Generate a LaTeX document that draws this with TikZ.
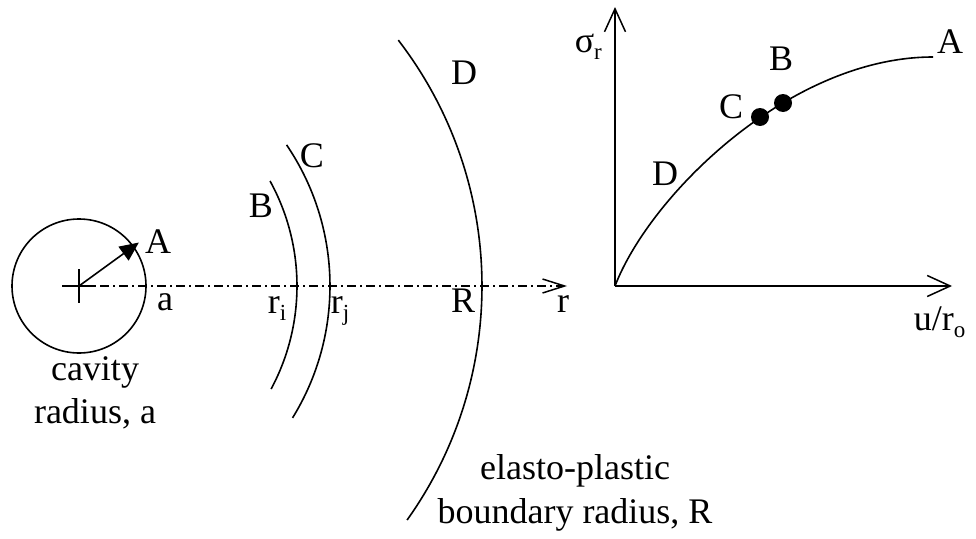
\documentclass[tikz,border=0pt]{standalone}
\usepackage{fontspec}
\setmainfont{Liberation Serif}
\usetikzlibrary{arrows.meta,calc}
\newcommand\mysub[1]{\raisebox{-0.2em}{\fontsize{23}{25}\selectfont #1}}
\begin{document}
\begin{tikzpicture}[x=1pt,y=-1pt,line width=1.6pt,
  lbl/.style={inner sep=0pt,font=\fontsize{36}{42}\selectfont},
  dashdot/.style={dash pattern=on 9pt off 4pt on 2pt off 4pt},
  smallhead/.style={-{Straight Barb[length=22pt,width=14pt,line width=1.5pt]}},
  axishead/.style={-{Straight Barb[length=23pt,width=21pt,line width=1.5pt]}},
  dot/.style={circle,fill=black,inner sep=0pt,minimum size=18pt}]
\useasboundingbox (0,0) rectangle (976,538);
% cavity
\coordinate (O) at (79,286);
\draw (O) circle[radius=67];
\draw (O) ++(-17,0) -- ++(34,0);
\draw (O) ++(0,-17) -- ++(0,34);
\coordinate (Aedge) at ($(O)+(-36:74)$);
\draw[-{Triangle[length=19pt,width=17pt]}] (O) -- (Aedge);
\coordinate (rstart) at (62,286);
\coordinate (rend) at (567,286);
\draw[dashdot,smallhead] (rstart) -- (rend);
% arcs
\draw (O) ++(-28.8:218) arc[start angle=-28.8,end angle=28.2,radius=218];
\draw (O) ++(-34.2:251) arc[start angle=-34.2,end angle=31.7,radius=251];
\draw (O) ++(-37.6:403) arc[start angle=-37.6,end angle=35.5,radius=403];
% labels left
\node[lbl,anchor=base] (lA) at (158,253) {A};
\node[lbl,anchor=base] (la) at (165,310) {a};
\node[lbl,anchor=base] (lB) at (261,217) {B};
\node[lbl,anchor=base] (lC) at (312,167) {C};
\node[lbl,anchor=base] (lD) at (464,84) {D};
\node[lbl,anchor=base west] (lri) at (267,313) {r\mysub{i}};
\node[lbl,anchor=base west] (lrj) at (330,313) {r\mysub{j}};
\node[lbl,anchor=base] (lR) at (463,312) {R};
\node[lbl,anchor=base] (lr) at (563,312) {r};
\node[lbl,anchor=base] (cav1) at (95,380) {cavity};
\node[lbl,anchor=base] (cav2) at (95,423) {radius, a};
\node[lbl,anchor=base] (ep1) at (575,479) {elasto-plastic};
\node[lbl,anchor=base] (ep2) at (575,523) {boundary radius, R};
% graph
\coordinate (G) at (615,286);
\coordinate (Gy) at (615,7);
\coordinate (Gx) at (952,286);
\draw[axishead] (G) -- (Gy);
\draw[axishead] (G) -- (Gx);
\coordinate (Cend) at (933,57);
\draw (G) .. controls (650,195) and (790,57) .. (Cend);
\node[dot] (pC) at (760,117) {};
\node[dot] (pB) at (783,103) {};
\node[lbl,anchor=base west] (sig) at (574,52) {σ\mysub{r}};
\node[lbl,anchor=base west] (ur) at (913,330) {u/r\mysub{o}};
\node[lbl,anchor=base] (gA) at (950,53) {A};
\node[lbl,anchor=base] (gB) at (781,70) {B};
\node[lbl,anchor=base] (gC) at (731,118) {C};
\node[lbl,anchor=base] (gD) at (665,185) {D};
\end{tikzpicture}
\end{document}
